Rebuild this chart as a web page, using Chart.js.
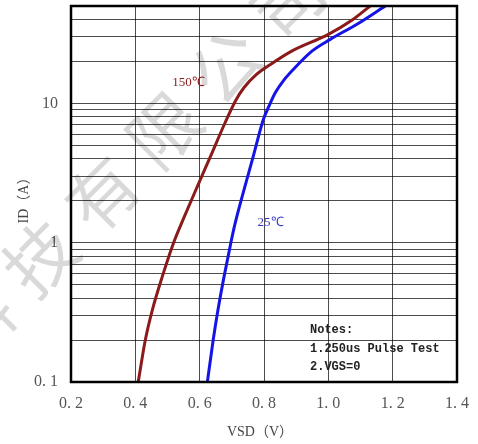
<!DOCTYPE html>
<html>
<head>
<meta charset="utf-8">
<script src="https://cdn.jsdelivr.net/npm/chart.js@4/dist/chart.umd.min.js"></script>
<style>
  html, body { margin: 0; padding: 0; background: #fff; }
  #wrap { width: 478px; height: 444px; }
</style>
</head>
<body>
<div id="wrap"><canvas id="vsdChart"></canvas></div>
<script>
// forward voltage (V) vs drain current (A)
const vsd150 = [0.409, 0.431, 0.453, 0.484, 0.519, 0.553, 0.593, 0.634, 0.679, 0.712, 0.738, 0.775, 0.820, 0.886, 1.000, 1.073, 1.130];
const id150  = [0.1, 0.2, 0.33, 0.573, 1.0, 1.55, 2.54, 4.18, 7.26, 10.5, 13, 16, 19, 23.7, 31.3, 39.5, 50];
const vsd25  = [0.624, 0.642, 0.657, 0.676, 0.697, 0.708, 0.735, 0.764, 0.798, 0.815, 0.835, 0.860, 0.892, 0.949, 1.006, 1.089, 1.177];
const id25   = [0.1, 0.2, 0.33, 0.573, 1.0, 1.31, 2.27, 3.96, 7.67, 9.5, 11.9, 14.5, 17.6, 23.7, 28.8, 37, 50];

const xTicks = [0.2, 0.4, 0.6, 0.8, 1.0, 1.2, 1.4];
const yLabelled = [0.1, 1, 10];
const yGrid = [0.1, 0.2, 0.3, 0.4, 0.5, 0.6, 0.7, 0.8, 0.9, 1, 2, 3, 4, 5, 6, 7, 8, 9, 10, 20, 30, 40, 50];

const curveLabels = [
  { text: '150℃', x: 0.515, y: 14, color: '#8b1a1a' },
  { text: '25℃', x: 0.78, y: 1.4, color: '#3a3ac8' }
];
const notes = ['Notes:', '1.250us Pulse Test', '2.VGS=0'];
const watermark = '科技有限公司';

const toXY = (xs, ys) => xs.map((v, i) => ({ x: v, y: ys[i] }));
const fmtX = v => v.toFixed(1).replace('.', '. ');
const fmtY = v => v < 1 ? v.toFixed(1).replace('.', '. ') : String(v);

const extras = {
  id: 'extras',
  beforeDatasetsDraw(chart) {
    // faint diagonal watermark
    const ctx = chart.ctx;
    ctx.save();
    ctx.fillStyle = 'rgba(0,0,0,0.15)';
    ctx.font = '70px "Noto Sans CJK SC"';
    ctx.textAlign = 'center';
    ctx.textBaseline = 'middle';
    [...watermark].forEach((ch, i) => {
      ctx.save();
      ctx.translate(-22 + i * 62, 322 - i * 64);
      ctx.rotate(-Math.PI / 4);
      ctx.fillText(ch, 0, 0);
      ctx.restore();
    });
    ctx.restore();
  },
  afterDraw(chart) {
    const { ctx, chartArea: a, scales } = chart;
    ctx.save();
    // frame
    ctx.strokeStyle = '#000';
    ctx.lineWidth = 2.5;
    ctx.strokeRect(a.left, a.top, a.right - a.left, a.bottom - a.top);

    // curve labels
    ctx.font = '13px "Liberation Serif"';
    ctx.textBaseline = 'middle';
    ctx.textAlign = 'left';
    curveLabels.forEach(l => {
      ctx.fillStyle = l.color;
      ctx.fillText(l.text, scales.x.getPixelForValue(l.x), scales.y.getPixelForValue(l.y));
    });

    // notes box
    ctx.fillStyle = '#222';
    ctx.font = 'bold 12px "Liberation Mono"';
    notes.forEach((t, i) => ctx.fillText(t, 310, 330 + i * 18.5));

    // axis titles
    ctx.fillStyle = '#444';
    ctx.font = '14px "Liberation Serif", "Noto Sans CJK SC"';
    ctx.textAlign = 'center';
    ctx.fillText('VSD（V）', 260, 432);
    ctx.translate(24, 197);
    ctx.rotate(-Math.PI / 2);
    ctx.fillText('ID（A）', 0, 0);
    ctx.restore();
  }
};

new Chart(document.getElementById('vsdChart'), {
  type: 'line',
  data: {
    datasets: [
      {
        label: '150℃',
        data: toXY(vsd150, id150),
        borderColor: '#8b1a1a',
        borderWidth: 3,
        pointRadius: 0,
        cubicInterpolationMode: 'monotone',
        fill: false
      },
      {
        label: '25℃',
        data: toXY(vsd25, id25),
        borderColor: '#1414e6',
        borderWidth: 3,
        pointRadius: 0,
        cubicInterpolationMode: 'monotone',
        fill: false
      }
    ]
  },
  options: {
    responsive: true,
    maintainAspectRatio: false,
    animation: false,
    layout: { padding: { left: 0, top: 6, right: 21, bottom: 0 } },
    plugins: { legend: { display: false }, tooltip: { enabled: false } },
    scales: {
      x: {
        type: 'linear',
        min: 0.2,
        max: 1.4,
        afterBuildTicks: s => { s.ticks = xTicks.map(v => ({ value: v })); },
        afterFit: s => { s.height = 62; s.paddingLeft = 0; s.paddingRight = 0; },
        border: { display: false },
        grid: { color: 'rgba(0,0,0,0.7)', lineWidth: 1, drawTicks: false },
        ticks: {
          padding: 12,
          color: '#555',
          font: { family: 'Liberation Serif', size: 16 },
          maxRotation: 0,
          callback: v => fmtX(v)
        }
      },
      y: {
        type: 'logarithmic',
        min: 0.1,
        max: 50,
        afterBuildTicks: s => { s.ticks = yGrid.map(v => ({ value: v })); },
        afterFit: s => { s.width = 71; s.paddingTop = 0; s.paddingBottom = 0; },
        border: { display: false },
        grid: { color: 'rgba(0,0,0,0.7)', lineWidth: 1, drawTicks: false },
        ticks: {
          padding: 13,
          color: '#555',
          autoSkip: false,
          font: { family: 'Liberation Serif', size: 16 },
          callback: v => yLabelled.includes(v) ? fmtY(v) : ''
        }
      }
    }
  },
  plugins: [extras]
});
</script>
</body>
</html>
